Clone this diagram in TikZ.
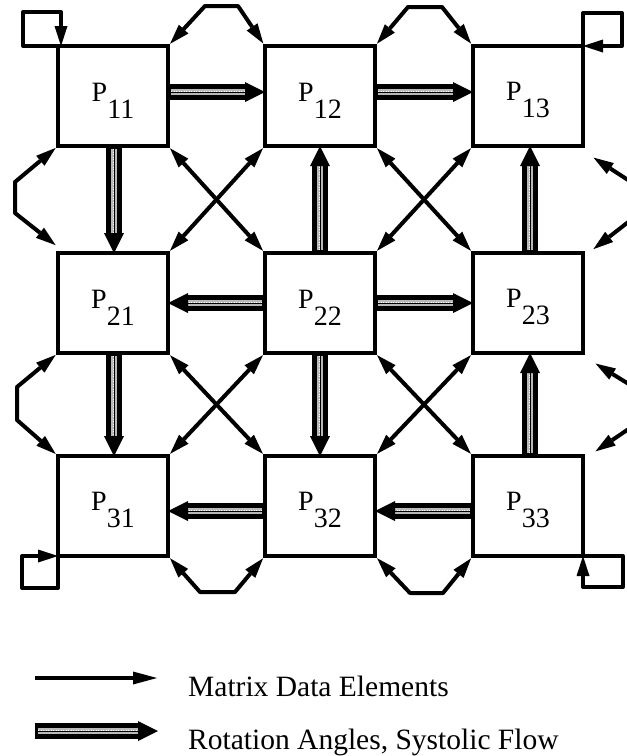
\documentclass[tikz,border=0pt]{standalone}
\usepackage{fontspec}
\setmainfont{Liberation Serif}
\usetikzlibrary{arrows.meta}
\newcommand\Psub[1]{\rule{0pt}{27pt}P\raisebox{-17pt}{#1}}
\tikzset{
  pbox/.style={draw, line width=4pt, minimum width=110pt, minimum height=100pt,
    inner sep=0pt, outer sep=0pt, font=\fontsize{28}{30}\selectfont},
  data/.style={line width=4pt, line join=round,
    -{Triangle[length=20pt,width=13pt,line width=0pt]}},
  datab/.style={line width=4pt, line join=round, shorten <=3pt, shorten >=3pt,
    {Triangle[length=20pt,width=13pt,line width=0pt]}-{Triangle[length=20pt,width=13pt,line width=0pt]}},
  systolic/.style={
    preaction={draw=black, line width=16pt, shorten >=17pt},
    postaction={draw=gray!55, line width=6pt, shorten <=3pt, shorten >=20pt},
    postaction={draw=white, line width=2pt, dash pattern=on 1pt off 1.5pt, shorten <=3pt, shorten >=20pt},
    postaction={draw=black, line width=0.5pt, -{Triangle[length=20pt,width=20pt,line width=0pt]}}},
  legtext/.style={anchor=base west, inner sep=0pt, font=\fontsize{29.5}{32}\selectfont}
}
\begin{document}
\begin{tikzpicture}[x=1pt,y=-1pt]
\fill[white] (0,0) rectangle (627,756);
\useasboundingbox (0,0) rectangle (627,756);
% boxes
\node[pbox] (p11) at (113,96) {\Psub{11}};
\node[pbox] (p12) at (320,96) {\Psub{12}};
\node[pbox] (p13) at (528,96) {\Psub{13}};
\node[pbox] (p21) at (113,303) {\Psub{21}};
\node[pbox] (p22) at (320,303) {\Psub{22}};
\node[pbox] (p23) at (528,303) {\Psub{23}};
\node[pbox] (p31) at (113,506) {\Psub{31}};
\node[pbox] (p32) at (320,506) {\Psub{32}};
\node[pbox] (p33) at (528,506) {\Psub{33}};
% systolic flow
\path[systolic] ([yshift=4pt]p11.east) -- ([yshift=4pt]p12.west);
\path[systolic] ([yshift=4pt]p12.east) -- ([yshift=4pt]p13.west);
\path[systolic] (p22.west) -- (p21.east);
\path[systolic] (p22.east) -- (p23.west);
\path[systolic] ([yshift=-5pt]p32.west) -- ([yshift=-5pt]p31.east);
\path[systolic] ([yshift=-5pt]p33.west) -- ([yshift=-5pt]p32.east);
\path[systolic] ([xshift=1pt]p11.south) -- ([xshift=1pt]p21.north);
\path[systolic] ([xshift=1pt]p21.south) -- ([xshift=1pt]p31.north);
\path[systolic] (p22.north) -- (p12.south);
\path[systolic] (p22.south) -- (p32.north);
\path[systolic] ([xshift=2pt]p23.north) -- ([xshift=2pt]p13.south);
\path[systolic] ([xshift=2pt]p33.north) -- ([xshift=2pt]p23.south);
% diagonals
\draw[datab] (p11.south east) -- (p22.north west);
\draw[datab] (p12.south west) -- (p21.north east);
\draw[datab] (p12.south east) -- (p23.north west);
\draw[datab] (p13.south west) -- (p22.north east);
\draw[datab] (p21.south east) -- (p32.north west);
\draw[datab] (p22.south west) -- (p31.north east);
\draw[datab] (p22.south east) -- (p33.north west);
\draw[datab] (p23.south west) -- (p32.north east);
% octagonal loops
\draw[datab] (p11.north east) -- (205,6) -- (238,6) -- (p12.north west);
\draw[datab] (p12.north east) -- (408,7) -- (442,7) -- (p13.north west);
\draw[datab] (p31.south east) -- (200,592) -- (235,592) -- (p32.south west);
\draw[datab] (p32.south east) -- (410,593) -- (443,593) -- (p33.south west);
\draw[datab] (p11.south west) -- (15,182) -- (15,213) -- ([yshift=6pt]p21.north west);
\draw[datab] (p21.south west) -- (17,387) -- (17,420) -- (p31.north west);
\begin{scope}
\clip (0,0) rectangle (627,756);
\draw[datab] ([xshift=8pt,yshift=-10pt]p13.south east) -- (645,191) -- (645,209) -- ([xshift=8pt,yshift=2pt]p23.north east);
\draw[datab] ([xshift=10pt,yshift=-9pt]p23.south east) -- (645,394) -- (645,418) -- ([xshift=10pt,yshift=3pt]p33.north east);
\end{scope}
% corner self loops
\draw[data] (p11.north west) -- (23,46) -- (23,12) -- (61,12) -- ([xshift=3pt]p11.north west);
\draw[data] (p13.north east) -- (583,13) -- (622,13) -- (622,46) -- (p13.north east);
\draw[data] (p31.south west) -- (58,588) -- (22,588) -- (22,556) -- (p31.south west);
\draw[data] (p33.south east) -- (623,556) -- (623,587) -- (583,587) -- (p33.south east);
% legend
\coordinate (la1) at (35,678);
\coordinate (lb1) at (157,678);
\draw[line width=4pt, -{Triangle[length=24pt,width=13pt,line width=0pt]}] (la1) -- (lb1);
\node[legtext] (lt1) at (188,696) {Matrix Data Elements};
\coordinate (la2) at (35,731);
\coordinate (lb2) at (158,731);
\path[systolic] (la2) -- (lb2);
\node[legtext] (lt2) at (188,749) {Rotation Angles, Systolic Flow};
\end{tikzpicture}
\end{document}
